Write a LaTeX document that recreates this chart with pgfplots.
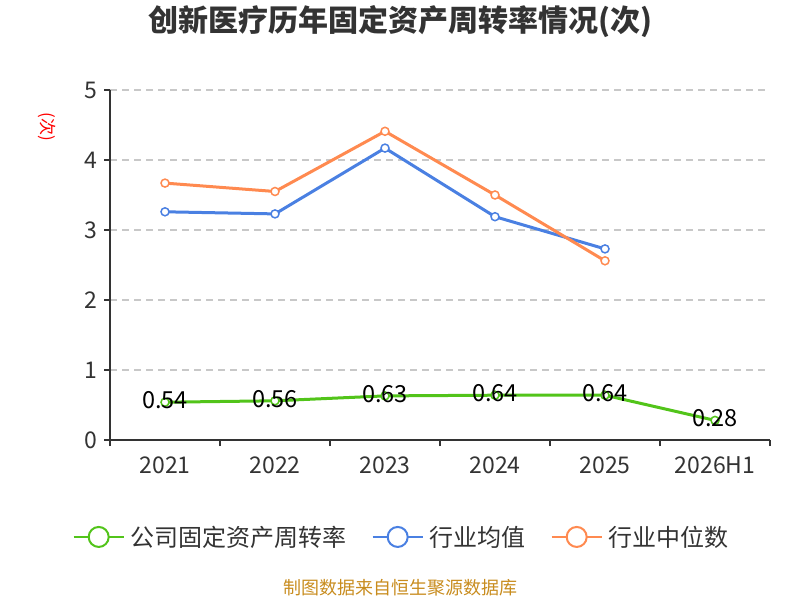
\documentclass[border=0pt]{standalone}
\usepackage{fontspec}
\setmainfont{Noto Sans CJK SC}
\usepackage{pgfplots}
\pgfplotsset{compat=1.18}
\definecolor{cgreen}{RGB}{82,196,26}
\definecolor{cblue}{RGB}{74,128,226}
\definecolor{corange}{RGB}{255,138,80}
\definecolor{ctext}{RGB}{51,51,51}
\definecolor{cgrid}{RGB}{200,200,200}
\definecolor{cfoot}{RGB}{200,140,30}
\begin{document}
\begin{tikzpicture}[x=1pt,y=1pt]
\path[use as bounding box] (0,0) rectangle (800,600);
\node[font=\fontsize{30}{34}\selectfont\bfseries, text=ctext] at (400,578) {创新医疗历年固定资产周转率情况(次)};
\node[font=\fontsize{17}{19}\selectfont, text=red, rotate=-90] at (47,473) {(次)};
\node[font=\fontsize{18}{20}\selectfont, text=cfoot] at (400,12) {制图数据来自恒生聚源数据库};
\begin{axis}[
  at={(110pt,160pt)}, anchor=south west,
  scale only axis, width=660pt, height=350pt,
  xmin=-0.5, xmax=5.5, ymin=0, ymax=5,
  axis x line*=bottom, axis y line*=left,
  axis line style={ctext, line width=1.5pt, -},
  xtick={-0.5,0.5,1.5,2.5,3.5,4.5,5.5}, xticklabels={},
  extra x ticks={0,1,2,3,4,5},
  extra x tick labels={2021,2022,2023,2024,2025,2026H1},
  extra x tick style={major tick length=0pt, xticklabel style={yshift=-13pt}},
  ytick={0,1,2,3,4,5},
  yticklabel style={xshift=-3pt},
  tick align=outside, major tick length=6pt,
  tick style={ctext, line width=1.5pt},
  ymajorgrids, grid style={cgrid, line width=1.2pt, dash pattern=on 7pt off 5pt},
  ticklabel style={font=\fontsize{23}{25}\selectfont, text=ctext},
  /pgf/number format/assume math mode=true,
  legend columns=3,
  legend style={at={(0.445,-0.277)}, anchor=center, draw=none, fill=none,
    font=\fontsize{24}{27}\selectfont, text=ctext,
    nodes={inner xsep=6pt},
    /tikz/every even column/.append style={column sep=19pt}},
  legend image code/.code={
    \draw[#1, mark=none, line width=2pt] (0pt,0pt) -- (50pt,0pt);
    \draw[#1, mark=none, line width=2pt, fill=white] (25pt,0pt) circle (10pt);
  },
]
\addplot[cgreen, line width=3pt, mark=*, mark size=4pt, mark options={fill=white, line width=1.5pt},
  nodes near coords, point meta=explicit symbolic,
  every node near coord/.append style={anchor=center, yshift=2pt, text=black, font=\fontsize{23.5}{26}\selectfont}]
  coordinates {(0,0.54)[0.54] (1,0.56)[0.56] (2,0.63)[0.63] (3,0.64)[0.64] (4,0.64)[0.64] (5,0.28)[0.28]};
\addlegendentry{公司固定资产周转率}
\addplot[cblue, line width=3pt, mark=*, mark size=4pt, mark options={fill=white, line width=1.5pt}]
  coordinates {(0,3.26) (1,3.23) (2,4.17) (3,3.19) (4,2.73)};
\addlegendentry{行业均值}
\addplot[corange, line width=3pt, mark=*, mark size=4pt, mark options={fill=white, line width=1.5pt}]
  coordinates {(0,3.67) (1,3.55) (2,4.41) (3,3.50) (4,2.56)};
\addlegendentry{行业中位数}
\end{axis}
\end{tikzpicture}
\end{document}
